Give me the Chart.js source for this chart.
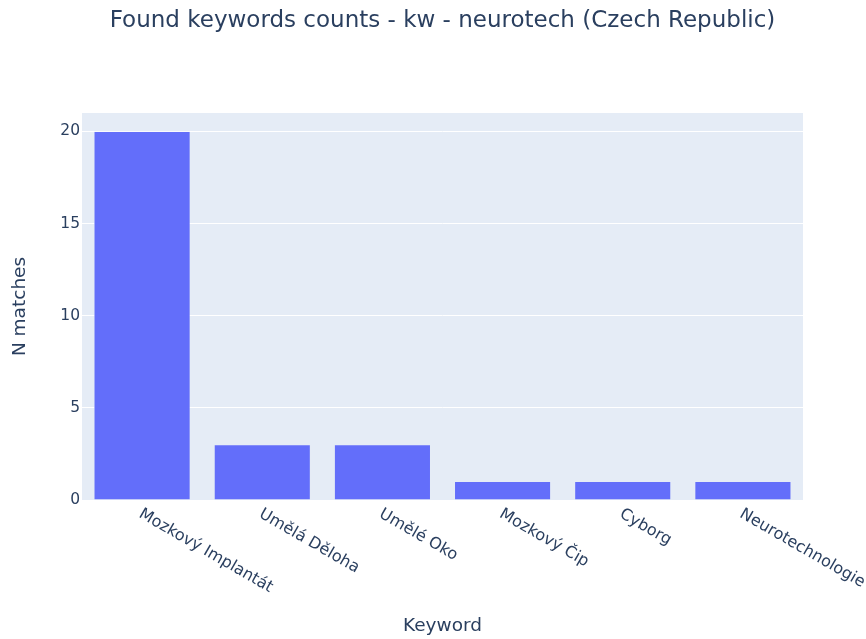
<!DOCTYPE html>
<html lang="en">

<head>
    <meta charset="UTF-8">
    <title>Found keywords counts</title>
    <script src="https://cdn.jsdelivr.net/npm/chart.js"></script>
    <style>
        body { margin: 0; background: #fff; }
        #wrap { width: 866px; height: 639px; }
    </style>
</head>

<body>
    <div id="wrap"><canvas id="chart"></canvas></div>

    <script>
        // Data
        const keywords = ['Mozkový Implantát', 'Umělá Děloha', 'Umělé Oko', 'Mozkový Čip', 'Cyborg', 'Neurotechnologie'];
        const matches = [20, 3, 3, 1, 1, 1];
        const yTicks = [0, 5, 10, 15, 20];

        const textColor = '#2a3f5f';
        const fontFamily = '"DejaVu Sans", verdana, arial, sans-serif';

        // Plot background like plotly
        const plotBg = {
            id: 'plotBg',
            beforeDraw(chart) {
                const { ctx, chartArea: a } = chart;
                ctx.save();
                ctx.fillStyle = '#E5ECF6';
                ctx.fillRect(a.left, a.top, a.right - a.left, a.bottom - a.top);
                ctx.restore();
            }
        };

        // Slanted category labels (start at tick, going down-right)
        const slantLabels = {
            id: 'slantLabels',
            afterDraw(chart) {
                const { ctx, scales: { x }, chartArea } = chart;
                ctx.save();
                ctx.font = '16px ' + fontFamily;
                ctx.fillStyle = textColor;
                ctx.textAlign = 'left';
                ctx.textBaseline = 'middle';
                keywords.forEach((k, i) => {
                    const px = x.getPixelForValue(i);
                    ctx.save();
                    ctx.translate(px - 2, chartArea.bottom + 13);
                    ctx.rotate(Math.PI / 6);
                    ctx.fillText(k, 0, 0);
                    ctx.restore();
                });
                ctx.restore();
            }
        };

        new Chart(document.getElementById('chart'), {
            type: 'bar',
            data: {
                labels: keywords,
                datasets: [{
                    data: matches,
                    backgroundColor: '#636EFA',
                    borderColor: '#E5ECF6',
                    borderWidth: 0.5,
                    categoryPercentage: 0.8,
                    barPercentage: 1.0
                }]
            },
            options: {
                responsive: true,
                maintainAspectRatio: false,
                animation: false,
                layout: { padding: { left: 0, right: 63, top: 0, bottom: 0 } },
                plugins: {
                    legend: { display: false },
                    tooltip: { enabled: false },
                    title: {
                        display: true,
                        fullSize: false,
                        text: 'Found keywords counts - kw - neurotech (Czech Republic)',
                        color: textColor,
                        font: { family: fontFamily, size: 23, weight: 'normal' },
                        padding: { top: 7, bottom: 78.4 }
                    }
                },
                scales: {
                    x: {
                        grid: { display: false },
                        border: { display: false },
                        ticks: { display: false },
                        title: {
                            display: true,
                            text: 'Keyword',
                            color: textColor,
                            font: { family: fontFamily, size: 18.5 },
                            padding: { top: 0, bottom: 2 }
                        },
                        afterFit(scale) { scale.height = 139; }
                    },
                    y: {
                        min: 0,
                        max: 21,
                        grid: { color: '#ffffff', lineWidth: 1, drawTicks: false },
                        border: { display: false },
                        afterBuildTicks(scale) {
                            scale.ticks = yTicks.map(v => ({ value: v }));
                        },
                        ticks: {
                            color: textColor,
                            font: { family: fontFamily, size: 15.5 },
                            padding: 2
                        },
                        title: {
                            display: true,
                            text: 'N matches',
                            color: textColor,
                            font: { family: fontFamily, size: 18.5 },
                            padding: { top: 9, bottom: 0 }
                        },
                        afterFit(scale) { scale.width = 82; }
                    }
                }
            },
            plugins: [plotBg, slantLabels]
        });
    </script>
</body>

</html>
